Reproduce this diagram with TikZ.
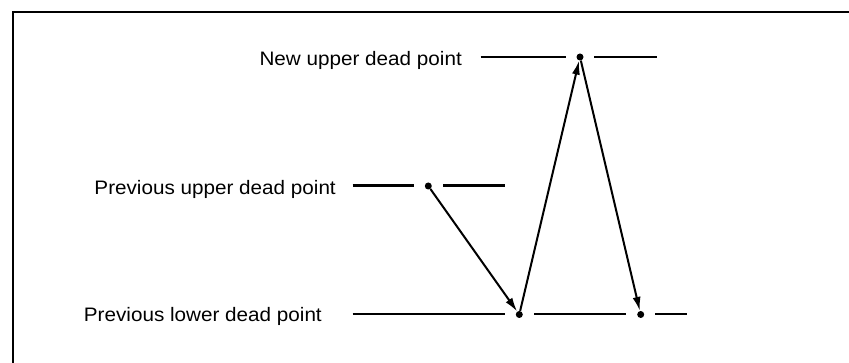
\documentclass[tikz,border=0pt]{standalone}
\usepackage{fontspec}
\usepackage{graphicx}
\setmainfont{Liberation Sans}
\usetikzlibrary{arrows.meta}
\tikzset{
  lbl/.style={anchor=base east, inner sep=0pt, font=\fontsize{19.5}{23}\selectfont},
  dotnode/.style={circle, fill=black, inner sep=0pt, minimum size=7pt},
  level/.style={line width=2.4pt},
  move/.style={line width=2pt, -{Latex[length=14pt,width=8pt]}},
  frame/.style={line width=2pt}
}
\begin{document}
\begin{tikzpicture}[x=1pt,y=-1pt]
\useasboundingbox (0,0) rectangle (849,363);
\draw[frame] (12.5,363) -- (12.5,12) -- (849,12);
% labels
\node[lbl] (tnew) at (462,65.7) {\scalebox{1.06}[1]{New upper dead point}};
\node[lbl] (tpu) at (336,195) {\scalebox{1.06}[1]{Previous upper dead point}};
\node[lbl] (tpl) at (322,322) {\scalebox{1.06}[1]{Previous lower dead point}};
% dots
\node[dotnode] (nu) at (580,57) {};
\node[dotnode] (pu) at (428.3,186) {};
\node[dotnode] (l1) at (519.3,314.5) {};
\node[dotnode] (l2) at (640.7,314.5) {};
% level lines
\draw[level] (480.7,57.3) -- (566,57.3);
\draw[level] (594,57.3) -- (656.7,57.3);
\draw[level] (352.7,185.7) -- (414.3,185.7);
\draw[level] (443.3,185.7) -- (505,185.7);
\draw[level] (352.7,314) -- (505,314);
\draw[level] (534,314) -- (626,314);
\draw[level] (655,314) -- (686.7,314);
% movements
\draw[move] (pu) -- (l1);
\draw[move] (l1) -- (nu);
\draw[move] (nu) -- (l2);
\end{tikzpicture}
\end{document}
